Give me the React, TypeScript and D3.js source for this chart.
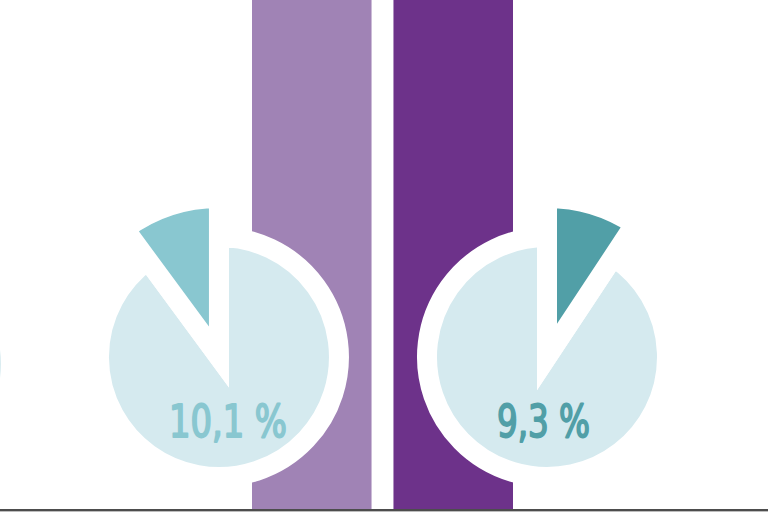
import React from "react";
import * as d3 from "d3";

// ---- data ----
const barCategories = ["A", "B"];
const barValues = [100, 100]; // both bars run past the top of the frame
const barColors = ["#a083b5", "#6d328a"];

const pieKeys = ["prev", "left", "right"];
const pieValues: (number | null)[] = [null, 10.1, 9.3];
const pieLabels = ["", "10,1 %", "9,3 %"];
const pieLabelWidths = [0, 120, 95];
const pieSide = [0, -1, 1]; // small slice drawn counter-clockwise (-1) or clockwise (+1) from 12 o'clock
const pieAccent = ["#89c7d0", "#89c7d0", "#519fa7"];
const pieBase = "#d5eaef";

const W = 768;
const H = 512;

export default function App() {
  const baseY = 509;
  const cy = 357;

  const xBar = d3.scaleBand<string>().domain(barCategories).range([252, 513]).paddingInner(0.155).paddingOuter(0);
  const yBar = d3.scaleLinear().domain([0, 100]).range([baseY, 0]);
  const xPie = d3.scalePoint<string>().domain(pieKeys).range([-109.1, 547]);
  const angle = d3.scaleLinear().domain([0, 100]).range([0, 2 * Math.PI]);

  const bigArc = d3.arc<any>().innerRadius(0).outerRadius(120);
  const smallArc = d3.arc<any>().innerRadius(0).outerRadius(159);

  return (
    <svg width={W} height={H} style={{ position: "absolute", left: 0, top: 0, display: "block" }}>
      <rect x={0} y={0} width={W} height={H} fill="#ffffff" />
      {barCategories.map((c, i) => (
        <rect
          key={c}
          x={xBar(c)}
          y={yBar(barValues[i])}
          width={xBar.bandwidth()}
          height={baseY - yBar(barValues[i])}
          fill={barColors[i]}
        />
      ))}
      {pieKeys.map((k, i) => {
        const cx = xPie(k)!;
        const v = pieValues[i];
        if (v == null) {
          return (
            <g key={k} transform={`translate(${cx},${cy + 7})`}>
              <circle r={120} fill={pieBase} stroke="#fff" strokeWidth={20} />
            </g>
          );
        }
        const a = angle(v);
        const side = pieSide[i];
        const small = side < 0 ? { startAngle: -a, endAngle: 0 } : { startAngle: 0, endAngle: a };
        const big = side < 0 ? { startAngle: 0, endAngle: 2 * Math.PI - a } : { startAngle: a, endAngle: 2 * Math.PI };
        return (
          <g key={k} transform={`translate(${cx},${cy})`}>
            <path d={bigArc(big as any)!} fill={pieBase} stroke="#fff" strokeWidth={20} strokeLinejoin="miter" strokeMiterlimit={4} />
            <path d={smallArc(small as any)!} fill={pieAccent[i]} stroke="#fff" strokeWidth={20} strokeLinejoin="miter" strokeMiterlimit={4} />
            <text
              x={-50}
              y={80}
              fill={pieAccent[i]}
              stroke={pieAccent[i]}
              strokeWidth={1.8}
              strokeLinejoin="round"
              fontFamily="'DejaVu Sans Condensed', sans-serif"
              fontWeight="normal"
              fontSize={44}
              textLength={pieLabelWidths[i] - 2}
              lengthAdjust="spacingAndGlyphs"
            >
              {pieLabels[i]}
            </text>
          </g>
        );
      })}
      <line x1={0} x2={W} y1={baseY + 1} y2={baseY + 1} stroke="#4d4d4d" strokeWidth={2} />
      <rect x={0} y={baseY + 2} width={W} height={H - baseY - 2} fill="#bdbdbd" />
    </svg>
  );
}
